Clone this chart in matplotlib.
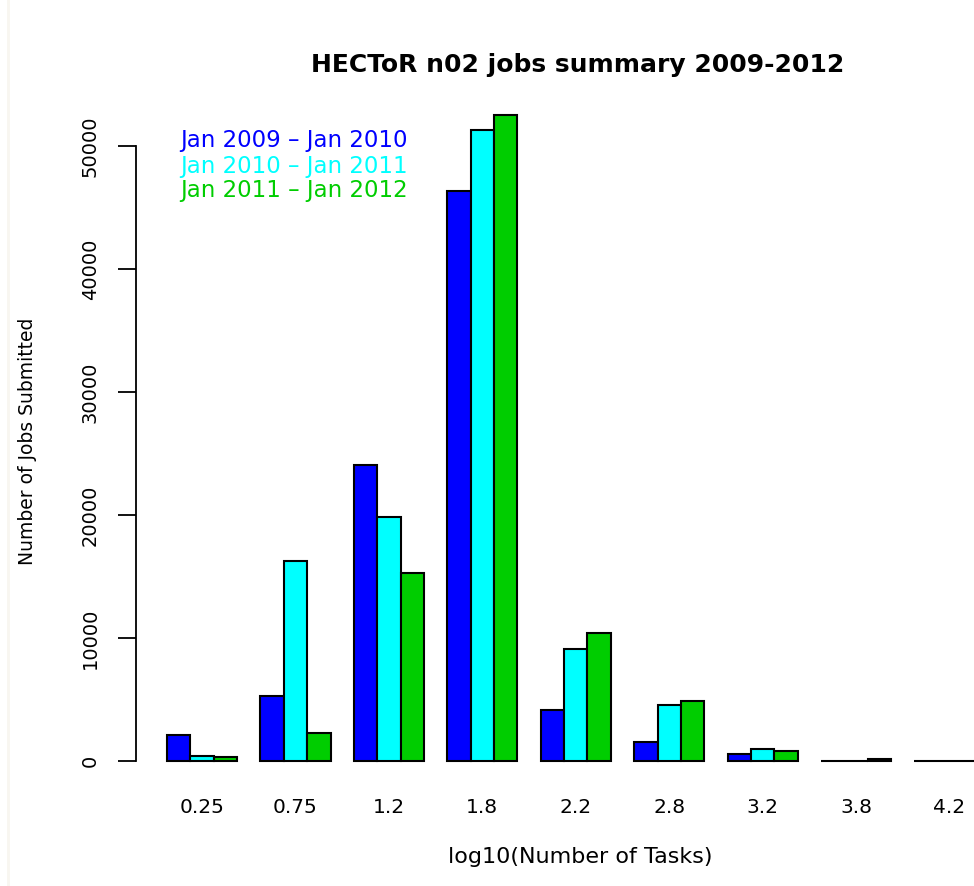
import numpy as np
import matplotlib
matplotlib.use('Agg')
import matplotlib.pyplot as plt
from matplotlib.lines import Line2D

plt.rcParams['font.family'] = ['DejaVu Sans']

# datos
grupos = ['0.25', '0.75', '1.2', '1.8', '2.2', '2.8', '3.2', '3.8', '4.2']
periodos = ['Jan 2009 – Jan 2010', 'Jan 2010 – Jan 2011', 'Jan 2011 – Jan 2012']
jobs_2009 = [2150, 5290, 24040, 46340, 4180, 1580, 570, 20, 10]
jobs_2010 = [440, 16290, 19870, 51330, 9140, 4590, 1010, 20, 10]
jobs_2011 = [300, 2280, 15280, 52500, 10440, 4880, 850, 160, 10]
colores = ['#0000FF', '#00FFFF', '#00CD00']

W, H = 974, 886
fig = plt.figure(figsize=(W / 100, H / 100), dpi=100)

# borde claro a la izquierda (recorte de pagina)
fig.add_artist(Line2D([8 / W, 8 / W], [0, 1], color='#f8f6f0', linewidth=2))

# eje: x=136px -> izquierda, fondo 780px, arriba 100px
ax = fig.add_axes([136 / W, (H - 780) / H, 1 - 136 / W, (780 - 100) / H])
px_unit = (821 - 167) / 28.0
x0 = 1 - (167 - 136) / px_unit
ax.set_xlim(x0, x0 + (W - 136) / px_unit)
ax.set_ylim((761 - 780) / 12.3 * 1000, (761 - 100) / 12.3 * 1000)

series = [jobs_2009, jobs_2010, jobs_2011]
for j, (vals, c) in enumerate(zip(series, colores)):
    xs = 1 + 4 * np.arange(len(grupos)) + j
    ax.bar(xs, vals, width=1, align='edge', color=c, edgecolor='black', linewidth=1.5)

centros = 1 + 4 * np.arange(len(grupos)) + 1.5
ax.set_xticks(centros)
ax.set_xticklabels(grupos, fontsize=14.5)
ax.tick_params(axis='x', length=0, pad=13)

ax.set_yticks(np.arange(0, 50001, 10000))
ax.set_yticklabels([str(v) for v in range(0, 50001, 10000)], rotation=90, va='center', fontsize=14)
ax.tick_params(axis='y', length=13, width=1.3, pad=13)

for s in ['top', 'right', 'bottom']:
    ax.spines[s].set_visible(False)
ax.spines['left'].set_bounds(0, 50000)
ax.spines['left'].set_linewidth(1.3)

for k, (txt, c) in enumerate(zip(periodos, colores)):
    fig.text(180 / W, 1 - (141 + 25 * k) / H, txt, color=c, fontsize=16.5, va='center', ha='left')

fig.text(578 / W, 1 - 65 / H, 'HECToR n02 jobs summary 2009-2012', fontsize=18,
         fontweight='bold', ha='center', va='center')
fig.text(580 / W, 1 - 857 / H, 'log10(Number of Tasks)', fontsize=16, ha='center', va='center')
fig.text(28 / W, 1 - 441 / H, 'Number of Jobs Submitted', fontsize=13.5, rotation=90,
         ha='center', va='center')

fig.savefig('out.png', dpi=100)
